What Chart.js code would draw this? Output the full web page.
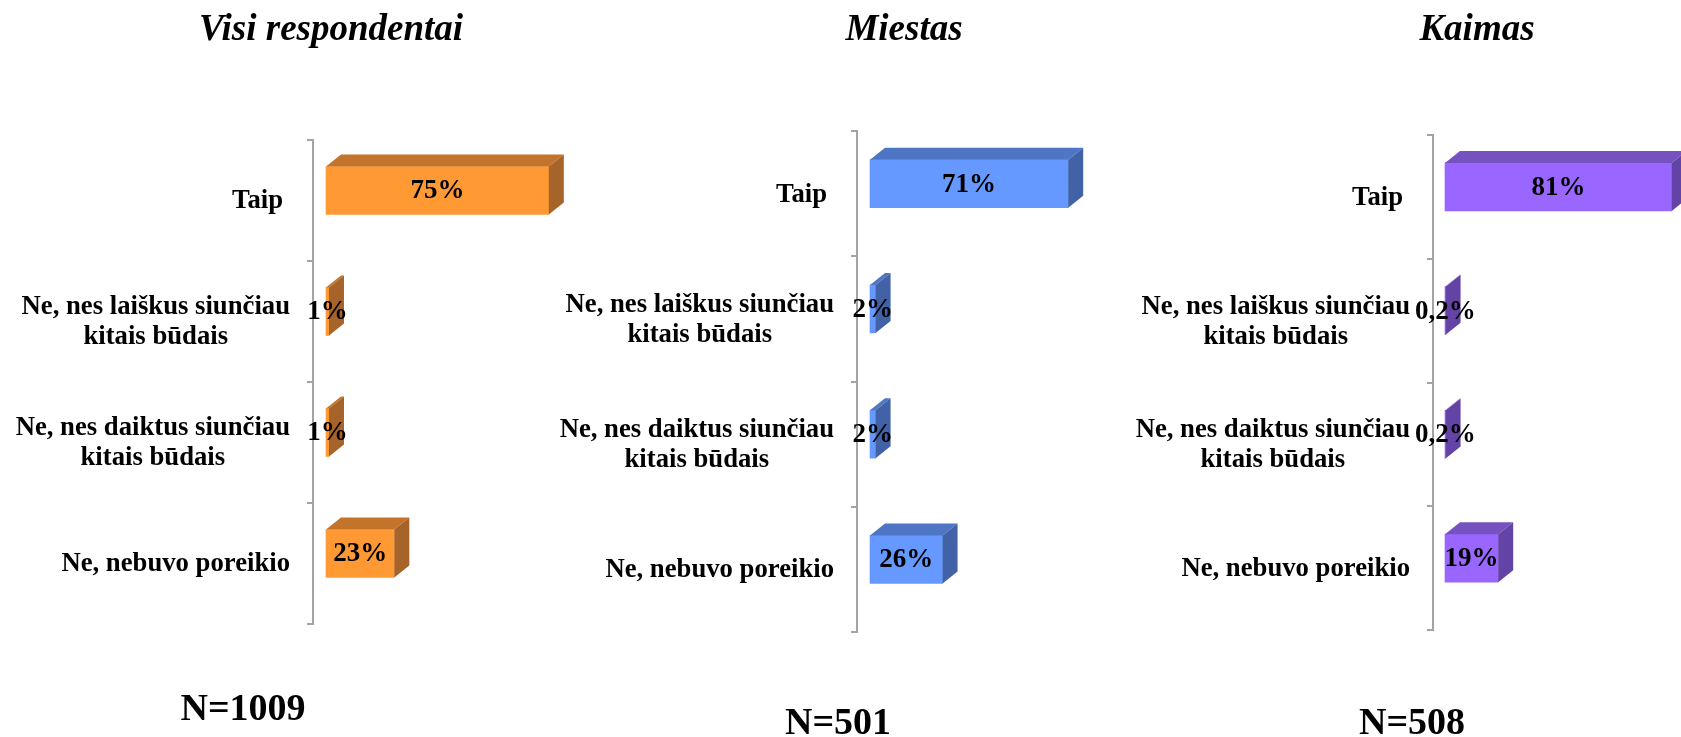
<!DOCTYPE html>
<html>
<head>
<meta charset="utf-8">
<script src="https://cdn.jsdelivr.net/npm/chart.js@4.4.1/dist/chart.umd.min.js"></script>
<style>
    html, body { margin: 0; padding: 0; background: #fff; }
    #wrap { position: relative; width: 1681px; height: 737px; overflow: hidden; }
    canvas { position: absolute; top: 0; }
</style>
</head>
<body>
<div id="wrap">
    <canvas id="chartAll" width="580" height="737" style="left:0px"></canvas>
    <canvas id="chartCity" width="560" height="737" style="left:540px"></canvas>
    <canvas id="chartRural" width="581" height="737" style="left:1100px"></canvas>
</div>
<script>
// DATA
const categories = [
    ["Taip"],
    ["Ne, nes laiškus siunčiau", "kitais būdais"],
    ["Ne, nes daiktus siunčiau", "kitais būdais"],
    ["Ne, nebuvo poreikio"],
];
const allValues = [75, 1, 1, 23];
const cityValues = [71, 2, 2, 26];
const ruralValues = [81, 0.2, 0.2, 19];
const panelTitles = ["Visi respondentai", "Miestas", "Kaimas"];
const sampleSizes = ["N=1009", "N=501", "N=508"];

// STYLE
const SERIF = '"Liberation Serif", "Times New Roman", serif';
const AXIS_COLOR = "#a3a3a3";

function formatValue(v) {
    return String(v).replace(".", ",") + "%";
}

// 3D BAR FACES + VALUE LABELS
const bar3d = {
    id: "bar3d",
    beforeDatasetsDraw(chart, args, opts) {
        chart.ctx.save();
        chart.ctx.translate(0, opts.shift);
    },
    afterDatasetsDraw(chart, args, opts) {
        const ctx = chart.ctx;
        const values = chart.data.datasets[0].data;
        chart.getDatasetMeta(0).data.forEach((bar, i) => {
            const top = bar.y - bar.height / 2;
            const bottom = bar.y + bar.height / 2;
            const x0 = bar.base;
            const x1 = bar.x;

            ctx.fillStyle = opts.top;
            ctx.beginPath();
            ctx.moveTo(x0, top);
            ctx.lineTo(x0 + opts.dx, top - opts.dy);
            ctx.lineTo(x1 + opts.dx, top - opts.dy);
            ctx.lineTo(x1, top);
            ctx.closePath();
            ctx.fill();

            ctx.fillStyle = opts.side;
            ctx.beginPath();
            ctx.moveTo(x1, top);
            ctx.lineTo(x1 + opts.dx, top - opts.dy);
            ctx.lineTo(x1 + opts.dx, bottom - opts.dy);
            ctx.lineTo(x1, bottom);
            ctx.closePath();
            ctx.fill();

            ctx.fillStyle = "#000";
            ctx.font = "bold 27px " + SERIF;
            ctx.textAlign = "center";
            ctx.textBaseline = "middle";
            ctx.fillText(formatValue(values[i]), (x0 + x1) / 2, bar.y + 1);
        });
        ctx.restore();
    },
};

// CATEGORY LABELS (multi-line centred, block right-aligned)
const categoryLabels = {
    id: "categoryLabels",
    afterDraw(chart) {
        const ctx = chart.ctx;
        const scale = chart.scales.y;
        const lineH = 30;
        ctx.save();
        ctx.fillStyle = "#000";
        ctx.font = "bold 26.7px " + SERIF;
        ctx.textAlign = "center";
        ctx.textBaseline = "middle";
        categories.forEach((lines, i) => {
            const y = scale.getPixelForValue(i) + 1;
            const widest = Math.max(...lines.map((l) => ctx.measureText(l).width));
            const gap = lines.length === 1 && widest < 80 ? 30 : 23;
            const cx = scale.right - gap - widest / 2;
            lines.forEach((line, j) => {
                ctx.fillText(line, cx, y + (j - (lines.length - 1) / 2) * lineH);
            });
        });
        ctx.restore();
    },
};

// TITLE + N
const panelText = {
    id: "panelText",
    afterDraw(chart, args, opts) {
        const ctx = chart.ctx;
        ctx.save();
        ctx.fillStyle = "#000";
        ctx.textAlign = "center";
        ctx.textBaseline = "alphabetic";
        ctx.font = "italic bold 37px " + SERIF;
        ctx.fillText(opts.title, opts.titleX, 40);
        ctx.font = "bold 38px " + SERIF;
        ctx.fillText(opts.note, opts.noteX, opts.noteY);
        ctx.restore();
    },
};

// PANEL
function makePanel(canvasId, values, cfg) {
    return new Chart(document.getElementById(canvasId), {
        type: "bar",
        data: {
            labels: categories.map((c) => c.join(" ")),
            datasets: [
                {
                    data: values,
                    backgroundColor: cfg.front,
                    borderWidth: 0,
                    barThickness: 48,
                },
            ],
        },
        options: {
            indexAxis: "y",
            responsive: false,
            animation: false,
            layout: { padding: { top: cfg.top, bottom: cfg.bottom, left: 0, right: 0 } },
            scales: {
                x: { display: false, min: cfg.min, max: cfg.max },
                y: {
                    afterFit: (s) => { s.width = cfg.axisX; },
                    ticks: { display: false },
                    grid: { drawOnChartArea: false, tickLength: 6, color: AXIS_COLOR, lineWidth: 2 },
                    border: { color: AXIS_COLOR, width: 2 },
                },
            },
            plugins: {
                legend: { display: false },
                tooltip: { enabled: false },
                bar3d: { shift: -10, dx: 15, dy: 12, top: cfg.topFace, side: cfg.sideFace },
                panelText: { title: cfg.title, titleX: cfg.titleX, note: cfg.note, noteX: cfg.noteX, noteY: cfg.noteY },
            },
        },
        plugins: [bar3d, categoryLabels, panelText],
    });
}

// INIT
makePanel("chartAll", allValues, {
    front: "#FF9933", topFace: "#C3732A", sideFace: "#A6632A",
    axisX: 313, top: 140, bottom: 113, min: -4.38, max: 85.5,
    title: panelTitles[0], titleX: 331, note: sampleSizes[0], noteX: 243, noteY: 720,
});
makePanel("chartCity", cityValues, {
    front: "#6699FF", topFace: "#4F76C4", sideFace: "#4162A6",
    axisX: 317, top: 131, bottom: 105, min: -4.66, max: 82.4,
    title: panelTitles[1], titleX: 364, note: sampleSizes[1], noteX: 298, noteY: 734,
});
makePanel("chartRural", ruralValues, {
    front: "#9966FF", topFace: "#7652C0", sideFace: "#6344A6",
    axisX: 333, top: 135, bottom: 107, min: -4.29, max: 84.3,
    title: panelTitles[2], titleX: 377, note: sampleSizes[2], noteX: 312, noteY: 734,
});
</script>
</body>
</html>
